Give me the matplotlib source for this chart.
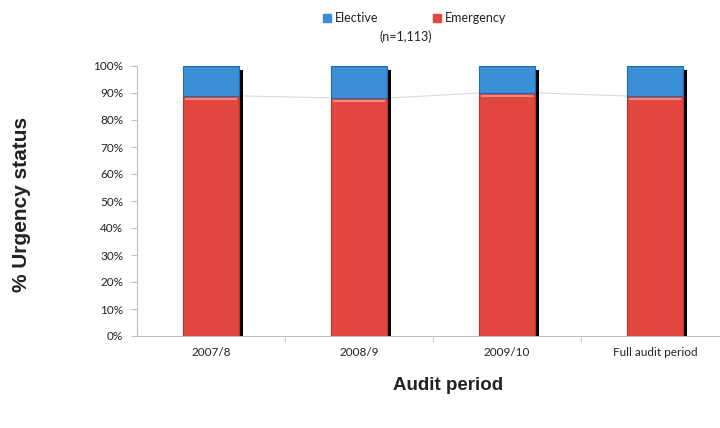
import numpy as np
import matplotlib
matplotlib.use('Agg')
import matplotlib.pyplot as plt
import matplotlib.patches as mpatches

periods = ['2007/8', '2008/9', '2009/10', 'Full audit period']
emergency = [88.9, 88.2, 90.0, 88.9]
elective = [100 - v for v in emergency]
y_ticks = np.arange(0, 101, 10)

blue = '#3a8fd6'
red = '#e2473f'
W, H = 720, 428

fig = plt.figure(figsize=(7.2, 4.28), dpi=100)
ax = fig.add_axes([137 / W, 1 - 336 / H, 592 / W, 270 / H])

x = np.arange(len(periods))
width = 0.385
shadow = 4 / 148

# black shadow on the right side of each bar
ax.bar(x + shadow, [98.5] * len(x), width, bottom=0, color='black', zorder=1)
ax.bar(x, emergency, width, color=red, edgecolor='#b8322c', linewidth=0.8, zorder=2)
ax.bar(x, elective, width, bottom=emergency, color=blue, edgecolor='#1f6aa8',
       linewidth=0.8, zorder=2)
# light highlight along top of each red segment
ax.bar(x, [0.6] * len(x), width * 0.9, bottom=np.array(emergency) - 1.4,
       color='#f08a80', zorder=3)

# series lines between bars
for i in range(len(x) - 1):
    ax.plot([x[i] + width / 2 + shadow, x[i + 1] - width / 2], [emergency[i], emergency[i + 1]],
            color='#d9d9d9', lw=0.8, zorder=0)

ax.set_xlim(-0.5, 3.5)
ax.set_ylim(0, 100)
ax.set_yticks(y_ticks)
ax.set_yticklabels([f'{v}%' for v in y_ticks], fontsize=8.5, family='Lato', color='#222222')
ax.set_xticks(x)
ax.set_xticklabels(periods, fontsize=8.5, family='Lato', color='#222222')
ax.set_xticks([0.5, 1.5, 2.5], minor=True)
ax.tick_params(axis='x', which='major', length=0, pad=8)
ax.tick_params(axis='x', which='minor', length=4, color='#bfbfbf')
ax.tick_params(axis='y', length=4, color='#bfbfbf', pad=6)

for s in ['top', 'right']:
    ax.spines[s].set_visible(False)
for s in ['left', 'bottom']:
    ax.spines[s].set_color('#bfbfbf')
ax.spines['bottom'].set_bounds(-0.5, 3.45)

fig.text(22 / W, 1 - 204 / H, '% Urgency status', rotation=90, ha='center', va='center',
         fontsize=15, fontweight='bold', family='Liberation Sans', color='#222222')
fig.text(448 / W, 1 - 386 / H, 'Audit period', ha='center', va='center',
         fontsize=13.5, fontweight='bold', family='Liberation Sans', color='#222222')

# legend, laid out by hand
for sx, lab, col in [(323, 'Elective', blue), (433, 'Emergency', red)]:
    fig.patches.append(mpatches.Rectangle((sx / W, 1 - 22 / H), 8 / W, 8 / H, color=col,
                                          transform=fig.transFigure, figure=fig))
    fig.text((sx + 12) / W, 1 - 18 / H, lab, ha='left', va='center', fontsize=9,
             family='Lato', color='#222222')
fig.text(406 / W, 1 - 37 / H, '(n=1,113)', ha='center', va='center', fontsize=9,
         family='Lato', color='#222222')

fig.savefig('out.png', dpi=100)
